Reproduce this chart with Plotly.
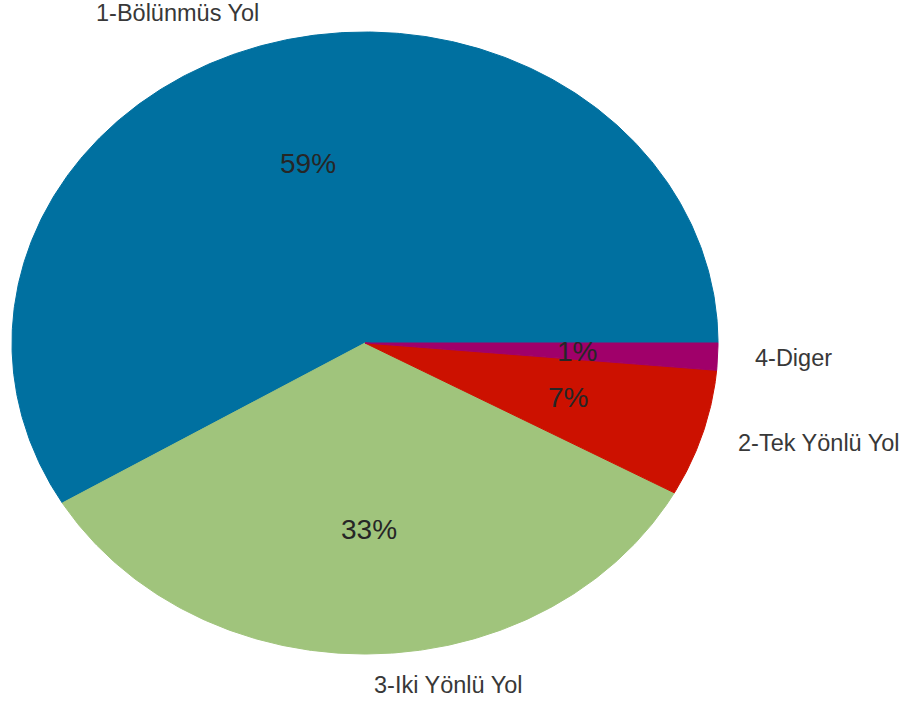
import numpy as np
import plotly.graph_objects as go

# Road type shares (percent)
labels = ["1-Bölünmüs Yol", "3-Iki Yönlü Yol", "2-Tek Yönlü Yol", "4-Diger"]
values = [58.6, 33.4, 6.6, 1.4]
colors = ["#0070a0", "#a0c47c", "#cc1100", "#a0006a"]

total = sum(values)
fig = go.Figure()

# Wedges drawn counter-clockwise from 3 o'clock, in data units (radius 1)
start = 0.0
mids = []
for lab, val, col in zip(labels, values, colors):
    span = 360.0 * val / total
    theta = np.radians(np.linspace(start, start + span, max(int(span * 2), 8)))
    xs = np.concatenate([[0.0], np.cos(theta), [0.0]])
    ys = np.concatenate([[0.0], np.sin(theta), [0.0]])
    fig.add_trace(go.Scatter(
        x=xs, y=ys, mode="lines", fill="toself",
        fillcolor=col, line=dict(color=col, width=1),
        hoverinfo="skip", showlegend=False, name=lab,
    ))
    mids.append(np.radians(start + span / 2))
    start += span

# Category labels outside, percentages inside
for lab, val, ang in zip(labels, values, mids):
    cx, cy = np.cos(ang), np.sin(ang)
    fig.add_annotation(
        x=1.1 * cx, y=1.1 * cy, text=lab, showarrow=False,
        xanchor="left" if cx > 0 else "right", yanchor="middle",
        font=dict(family="Liberation Sans, Arial, sans-serif", size=23.5, color="#383838"),
    )
    fig.add_annotation(
        x=0.6 * cx, y=0.6 * cy, text=f"{round(val / total * 100):.0f}%", showarrow=False,
        xanchor="center", yanchor="middle",
        font=dict(family="Liberation Sans, Arial, sans-serif", size=28, color="#262626"),
    )

fig.update_layout(
    width=923, height=702,
    margin=dict(l=0, r=0, t=0, b=0),
    paper_bgcolor="white", plot_bgcolor="white",
    xaxis=dict(range=[-365 / 353, (923 - 365) / 353], visible=False, fixedrange=True),
    yaxis=dict(range=[-(702 - 343) / 311, 343 / 311], visible=False, fixedrange=True),
)

fig.write_html("out.html")
